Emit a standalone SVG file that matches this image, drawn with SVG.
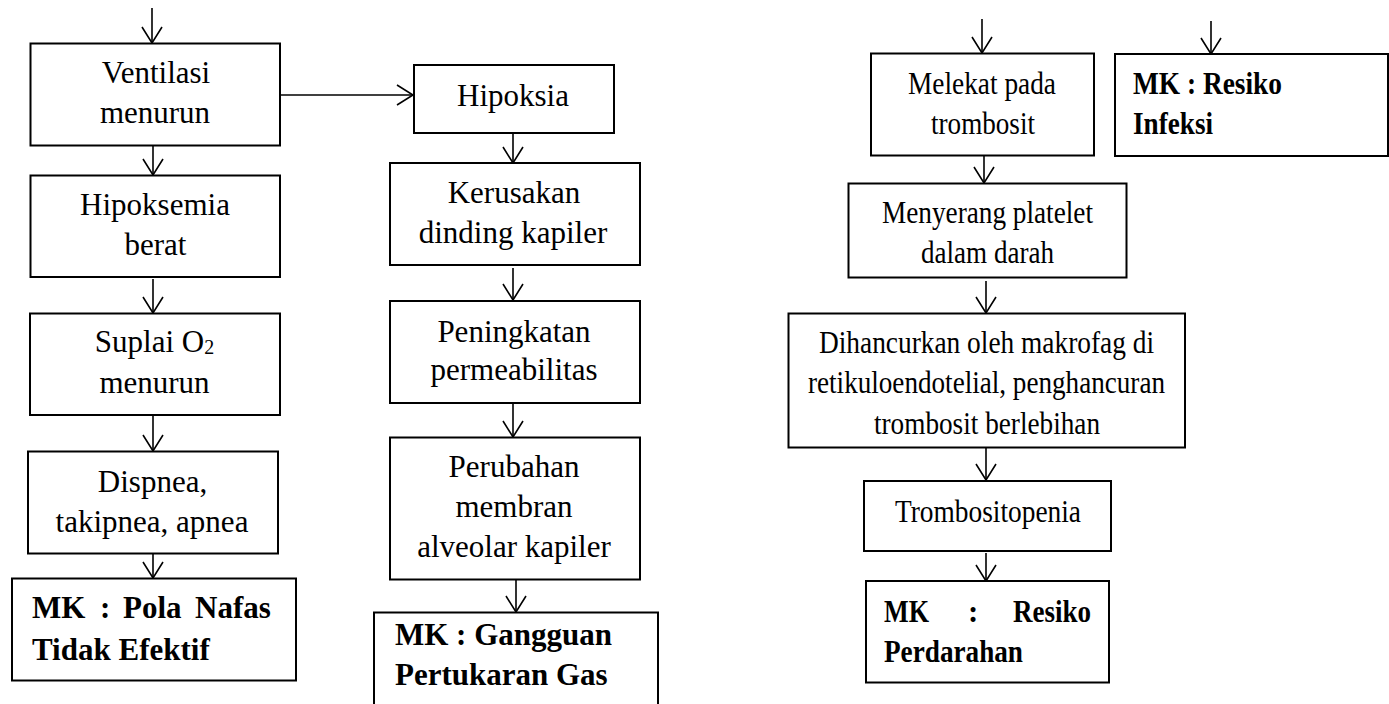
<svg xmlns="http://www.w3.org/2000/svg" width="1389" height="704" viewBox="0 0 1389 704">
<style>
.box{fill:#fff;stroke:#000;stroke-width:2}
.t{font-family:"Liberation Serif","Times New Roman",serif;font-size:31px;fill:#000}
.m{text-anchor:middle}
.b{font-weight:bold}
.c{fill:none;stroke:#000;stroke-width:1.6}
</style>
<defs>
<marker id="ah" markerUnits="userSpaceOnUse" markerWidth="20" markerHeight="24" refX="17" refY="11" orient="auto" viewBox="0 0 20 24">
<path d="M1,1 L17,11 L1,21" fill="none" stroke="#000" stroke-width="1.6"/>
</marker>
</defs>
<rect width="1389" height="704" fill="#fff"/>

<g id="connectors">
<line class="c" x1="152" y1="8" x2="152" y2="43" marker-end="url(#ah)"/>
<line class="c" x1="153" y1="145" x2="153" y2="175" marker-end="url(#ah)"/>
<line class="c" x1="153" y1="279" x2="153" y2="313" marker-end="url(#ah)"/>
<line class="c" x1="153" y1="415" x2="153" y2="451" marker-end="url(#ah)"/>
<line class="c" x1="153" y1="553" x2="153" y2="578" marker-end="url(#ah)"/>
<line class="c" x1="280" y1="95" x2="413" y2="95" marker-end="url(#ah)"/>
<line class="c" x1="513" y1="133" x2="513" y2="163" marker-end="url(#ah)"/>
<line class="c" x1="513" y1="268" x2="513" y2="300" marker-end="url(#ah)"/>
<line class="c" x1="513" y1="403" x2="513" y2="437" marker-end="url(#ah)"/>
<line class="c" x1="516" y1="579" x2="516" y2="612" marker-end="url(#ah)"/>
<line class="c" x1="982" y1="19" x2="982" y2="53" marker-end="url(#ah)"/>
<line class="c" x1="1211" y1="21" x2="1211" y2="54" marker-end="url(#ah)"/>
<line class="c" x1="984" y1="156" x2="984" y2="183" marker-end="url(#ah)"/>
<line class="c" x1="986" y1="281" x2="986" y2="313" marker-end="url(#ah)"/>
<line class="c" x1="986" y1="447" x2="986" y2="480" marker-end="url(#ah)"/>
<line class="c" x1="986" y1="553" x2="986" y2="581" marker-end="url(#ah)"/>
</g>

<g id="ventilasi">
<rect class="box" x="30.5" y="43.5" width="249.5" height="102"/>
<text class="t m" x="156" y="83">Ventilasi</text>
<text class="t m" x="155" y="123">menurun</text>
</g>
<g id="hipoksemia">
<rect class="box" x="30.5" y="175.5" width="249.5" height="101.5"/>
<text class="t m" x="155" y="215">Hipoksemia</text>
<text class="t m" x="155.5" y="255">berat</text>
</g>
<g id="suplai">
<rect class="box" x="30" y="313.5" width="250" height="101.5"/>
<text class="t m" x="154.5" y="352">Suplai O<tspan font-size="20" dy="2">2</tspan></text>
<text class="t m" x="154.5" y="393">menurun</text>
</g>
<g id="dispnea">
<rect class="box" x="28" y="451.5" width="250" height="102"/>
<text class="t m" x="152.5" y="492">Dispnea,</text>
<text class="t m" x="152" y="532">takipnea, apnea</text>
</g>
<g id="mk-pola">
<rect class="box" x="12" y="578.5" width="284" height="102"/>
<text class="t b" y="618"><tspan x="32">MK</tspan><tspan x="100">:</tspan><tspan x="123">Pola</tspan><tspan x="195">Nafas</tspan></text>
<text class="t b" x="32" y="660">Tidak Efektif</text>
</g>

<g id="hipoksia">
<rect class="box" x="414" y="65" width="200" height="68"/>
<text class="t m" x="513" y="106">Hipoksia</text>
</g>
<g id="kerusakan">
<rect class="box" x="390" y="163" width="250" height="102"/>
<text class="t m" x="514" y="203">Kerusakan</text>
<text class="t m" x="513" y="243">dinding kapiler</text>
</g>
<g id="peningkatan">
<rect class="box" x="390" y="301" width="250" height="102"/>
<text class="t m" x="514" y="342">Peningkatan</text>
<text class="t m" x="514" y="380">permeabilitas</text>
</g>
<g id="perubahan">
<rect class="box" x="390" y="437.5" width="250" height="142"/>
<text class="t m" x="514" y="477">Perubahan</text>
<text class="t m" x="514" y="517">membran</text>
<text class="t m" x="514" y="557">alveolar kapiler</text>
</g>
<g id="mk-gangguan">
<rect class="box" x="374" y="612.5" width="284" height="100"/>
<text class="t b" x="395" y="645">MK : Gangguan</text>
<text class="t b" x="395" y="685">Pertukaran Gas</text>
</g>

<g id="melekat">
<rect class="box" x="871" y="53.5" width="223" height="102"/>
<text class="t" x="908" y="94" textLength="148" lengthAdjust="spacingAndGlyphs">Melekat pada</text>
<text class="t" x="931" y="134" textLength="104" lengthAdjust="spacingAndGlyphs">trombosit</text>
</g>
<g id="mk-infeksi">
<rect class="box" x="1115" y="54" width="273" height="102"/>
<text class="t b" x="1133" y="94" textLength="149" lengthAdjust="spacingAndGlyphs">MK : Resiko</text>
<text class="t b" x="1133" y="134" textLength="80" lengthAdjust="spacingAndGlyphs">Infeksi</text>
</g>
<g id="menyerang">
<rect class="box" x="848.5" y="183.5" width="278" height="94"/>
<text class="t" x="882" y="223" textLength="211" lengthAdjust="spacingAndGlyphs">Menyerang platelet</text>
<text class="t" x="921" y="263" textLength="133" lengthAdjust="spacingAndGlyphs">dalam darah</text>
</g>
<g id="dihancurkan">
<rect class="box" x="788.5" y="313.5" width="396.5" height="134"/>
<text class="t" x="819" y="353" textLength="335" lengthAdjust="spacingAndGlyphs">Dihancurkan oleh makrofag di</text>
<text class="t" x="808" y="393" textLength="357" lengthAdjust="spacingAndGlyphs">retikuloendotelial, penghancuran</text>
<text class="t" x="874" y="434" textLength="226" lengthAdjust="spacingAndGlyphs">trombosit berlebihan</text>
</g>
<g id="trombositopenia">
<rect class="box" x="864" y="481" width="247" height="70"/>
<text class="t" x="895" y="522" textLength="186" lengthAdjust="spacingAndGlyphs">Trombositopenia</text>
</g>
<g id="mk-perdarahan">
<rect class="box" x="866" y="581" width="243" height="101.5"/>
<text class="t b" y="622"><tspan x="884" textLength="45" lengthAdjust="spacingAndGlyphs">MK</tspan></text>
<text class="t b" x="968" y="622">:</text>
<text class="t b" x="1013" y="622" textLength="78" lengthAdjust="spacingAndGlyphs">Resiko</text>
<text class="t b" x="884" y="662" textLength="139" lengthAdjust="spacingAndGlyphs">Perdarahan</text>
</g>
</svg>
